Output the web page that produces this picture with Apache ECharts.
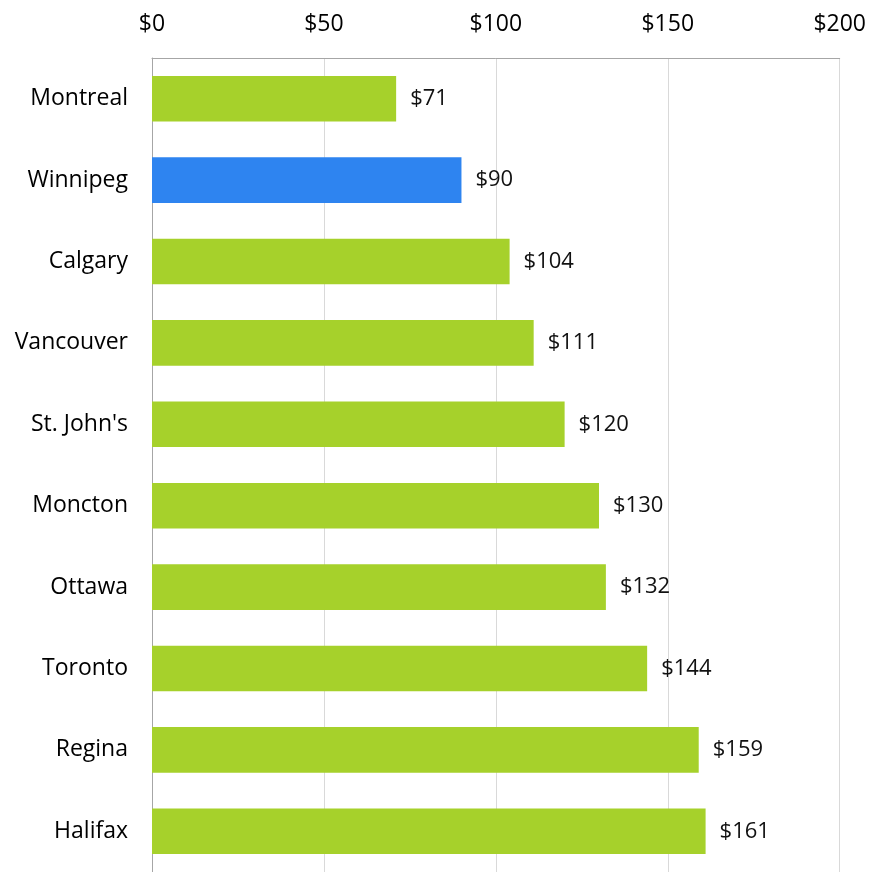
<!DOCTYPE html>
<html>
<head>
<meta charset="UTF-8">
<title>City costs</title>
<script type="text/javascript" src="https://cdn.jsdelivr.net/npm/echarts@6/dist/echarts.min.js"></script>
<style>
  html, body { margin: 0; padding: 0; background: #fff; }
</style>
</head>
<body>
<div id="main" style="width:869px;height:872px"></div>
<script type="text/javascript">
// categories, top to bottom
var cities = ['Montreal', 'Winnipeg', 'Calgary', 'Vancouver', "St. John's",
              'Moncton', 'Ottawa', 'Toronto', 'Regina', 'Halifax'];
var costs = [71, 90, 104, 111, 120, 130, 132, 144, 159, 161];
var highlight = 'Winnipeg';

var green = '#a6d12b';
var blue = '#2e84f0';
var fontFam = 'Open Sans, sans-serif';

var myChart = echarts.init(document.getElementById('main'));

var barData = costs.map(function (v, i) {
  return {
    value: v,
    itemStyle: { color: cities[i] === highlight ? blue : green }
  };
});

var option = {
  animation: false,
  grid: { left: 152, right: 28, top: 58, bottom: 0, containLabel: false },
  xAxis: {
    type: 'value',
    position: 'top',
    min: 0,
    max: 200,
    interval: 50,
    axisLine: { show: true, lineStyle: { color: '#a6a6a6', width: 1 } },
    axisTick: { show: false },
    splitLine: { show: true, lineStyle: { color: '#d9d9d9', width: 1 } },
    axisLabel: {
      formatter: function (v) { return '$' + v; },
      color: '#000', fontSize: 23, fontFamily: fontFam, margin: 22
    }
  },
  yAxis: {
    type: 'category',
    inverse: true,
    data: cities,
    axisLine: { show: true, lineStyle: { color: '#a6a6a6', width: 1 } },
    axisTick: { show: false },
    axisLabel: { color: '#000', fontSize: 23, fontFamily: fontFam, margin: 24 }
  },
  series: [{
    type: 'bar',
    data: barData,
    barWidth: '56%',
    label: {
      show: true,
      position: 'right',
      distance: 14,
      formatter: function (p) { return '$' + p.value; },
      color: '#111',
      fontSize: 22,
      fontFamily: fontFam
    }
  }]
};
myChart.setOption(option);
</script>
</body>
</html>
